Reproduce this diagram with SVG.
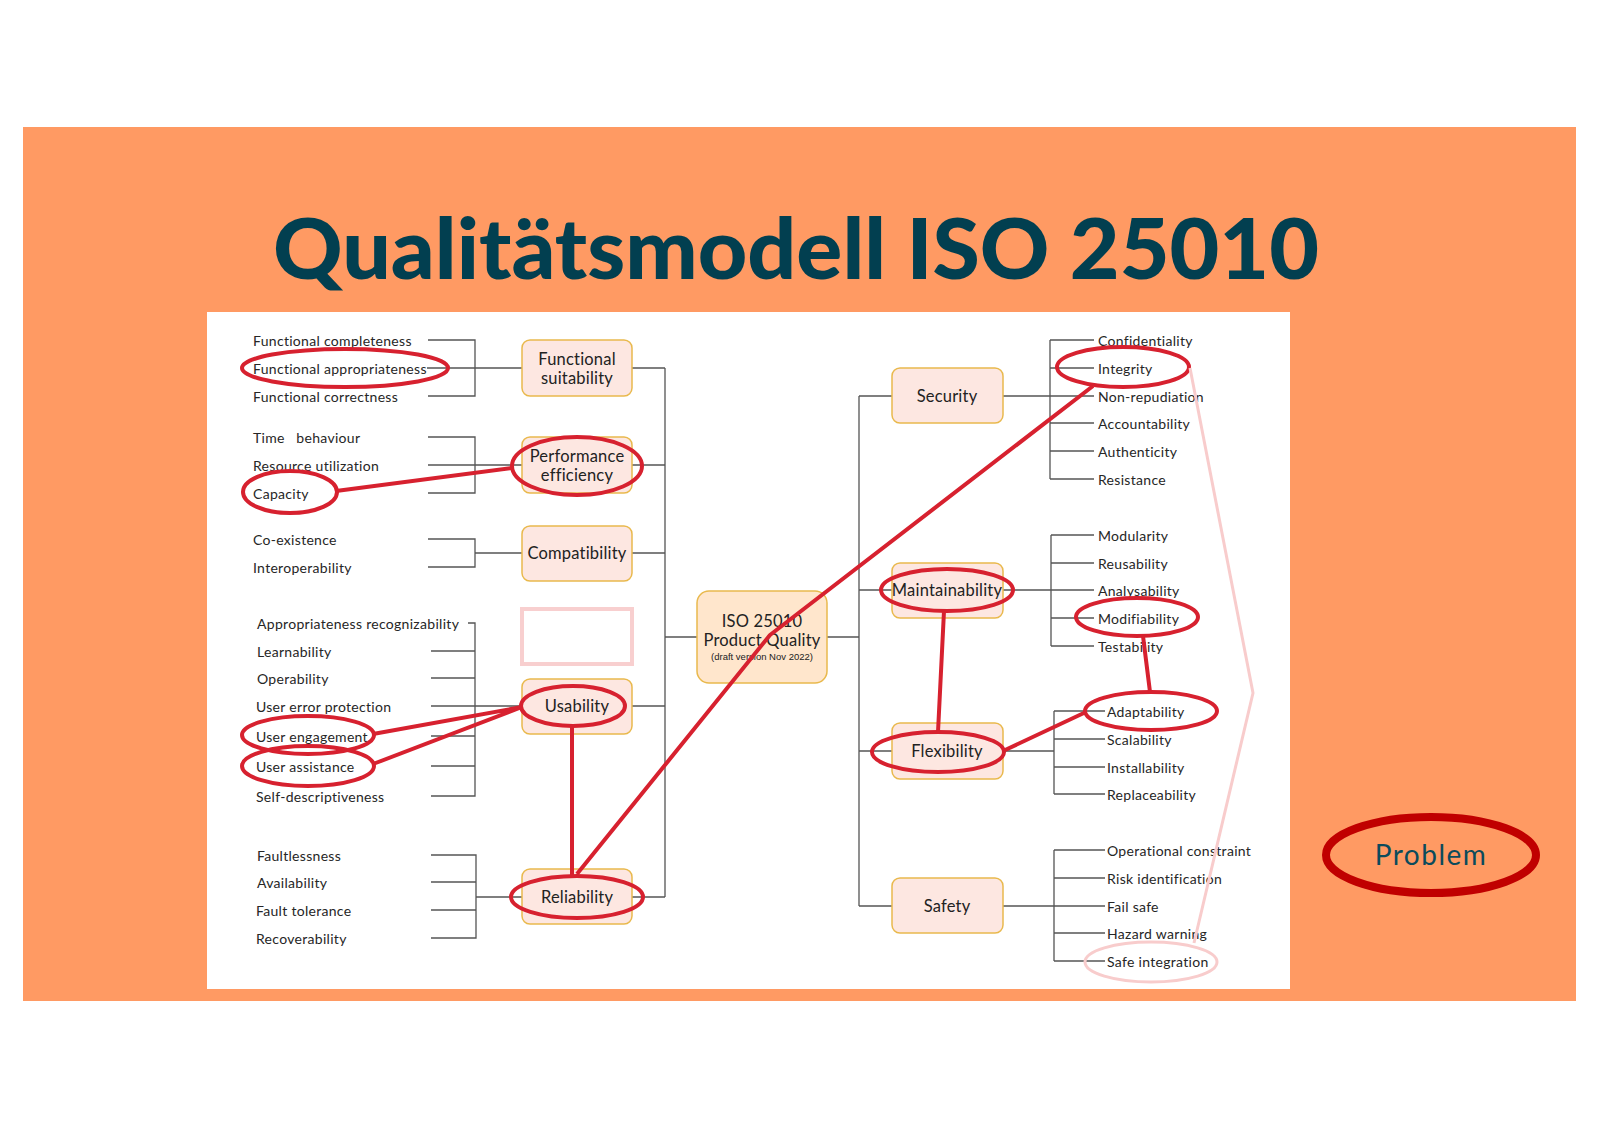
<svg xmlns="http://www.w3.org/2000/svg" width="1600" height="1131" viewBox="0 0 1600 1131">
<style>
.bg{fill:#ff9a63}
.item{font-family:Lato,"Noto Sans","Liberation Sans",sans-serif;font-size:14px;letter-spacing:0.3px;fill:#262626;dominant-baseline:central}
.box{fill:#fde7e1;stroke:#e9b94d;stroke-width:1.5}
.lbl{font-family:Lato,"Noto Sans","Liberation Sans",sans-serif;font-size:16.5px;letter-spacing:0.2px;fill:#222;text-anchor:middle;dominant-baseline:central}
.ln{stroke:#555;stroke-width:1.3;fill:none}
.red{stroke:#d7212f;stroke-width:4;fill:none;stroke-linejoin:round}
.pink{stroke:#f8cccc;stroke-width:3;fill:none}
</style>
<rect x="0" y="0" width="1600" height="1131" fill="#ffffff"/>
<rect class="bg" x="23" y="127" width="1553" height="874"/>
<text x="796" y="279" font-family="Lato,'Noto Sans',sans-serif" font-weight="900" font-size="84" fill="#023f50" text-anchor="middle" textLength="1046" lengthAdjust="spacingAndGlyphs">Qualitätsmodell ISO 25010</text>
<rect x="207" y="312" width="1083" height="677" fill="#ffffff"/>

<g id="connectors">
<path class="ln" d="M428 340H475V396H428M427 368H522M632 368H665"/>
<path class="ln" d="M428 437H475V493H428M428 465H522M632 465H665"/>
<path class="ln" d="M428 539H475V567H428M475 553H522M632 553H665"/>
<path class="ln" d="M468 623H475V796H431M431 651H475M431 678H475M431 706H522M431 736H475M431 766H475M632 706H665"/>
<path class="ln" d="M431 855H476V938H431M431 882H476M431 910H476M476 897H522M632 897H665"/>
<path class="ln" d="M665 368V897M665 637H697M827 637H859M859 396V906M859 396H892M859 590H892M859 751H892M859 906H892"/>
<path class="ln" d="M1003 396H1050M1050 340V479M1050 340H1094M1050 368H1094M1050 396H1094M1050 423H1094M1050 451H1094M1050 479H1094"/>
<path class="ln" d="M1003 590H1051M1051 535V646M1051 535H1094M1051 563H1094M1051 590H1094M1051 618H1094M1051 646H1094"/>
<path class="ln" d="M1003 751H1054M1054 711V794M1054 711H1105M1054 739H1105M1054 767H1105M1054 794H1105"/>
<path class="ln" d="M1003 906H1054M1054 850V961M1054 850H1105M1054 878H1105M1054 906H1105M1054 933H1105M1054 961H1105"/>
</g>

<g id="items-left">
<text class="item" x="253" y="340">Functional completeness</text>
<text class="item" x="253" y="368">Functional appropriateness</text>
<text class="item" x="253" y="396">Functional correctness</text>
<text class="item" x="253" y="437" style="white-space:pre">Time   behaviour</text>
<text class="item" x="253" y="465">Resource utilization</text>
<text class="item" x="253" y="493">Capacity</text>
<text class="item" x="253" y="539">Co-existence</text>
<text class="item" x="253" y="567">Interoperability</text>
<text class="item" x="257" y="623">Appropriateness recognizability</text>
<text class="item" x="257" y="651">Learnability</text>
<text class="item" x="257" y="678">Operability</text>
<text class="item" x="256" y="706">User error protection</text>
<text class="item" x="256" y="736">User engagement</text>
<text class="item" x="256" y="766">User assistance</text>
<text class="item" x="256" y="796">Self-descriptiveness</text>
<text class="item" x="257" y="855">Faultlessness</text>
<text class="item" x="257" y="882">Availability</text>
<text class="item" x="256" y="910">Fault tolerance</text>
<text class="item" x="256" y="938">Recoverability</text>
</g>

<g id="items-right">
<text class="item" x="1098" y="340">Confidentiality</text>
<text class="item" x="1098" y="368">Integrity</text>
<text class="item" x="1098" y="396">Non-repudiation</text>
<text class="item" x="1098" y="423">Accountability</text>
<text class="item" x="1098" y="451">Authenticity</text>
<text class="item" x="1098" y="479">Resistance</text>
<text class="item" x="1098" y="535">Modularity</text>
<text class="item" x="1098" y="563">Reusability</text>
<text class="item" x="1098" y="590">Analysability</text>
<text class="item" x="1098" y="618">Modifiability</text>
<text class="item" x="1098" y="646">Testability</text>
<text class="item" x="1107" y="711">Adaptability</text>
<text class="item" x="1107" y="739">Scalability</text>
<text class="item" x="1107" y="767">Installability</text>
<text class="item" x="1107" y="794">Replaceability</text>
<text class="item" x="1107" y="850">Operational constraint</text>
<text class="item" x="1107" y="878">Risk identification</text>
<text class="item" x="1107" y="906">Fail safe</text>
<text class="item" x="1107" y="933">Hazard warning</text>
<text class="item" x="1107" y="961">Safe integration</text>
</g>

<g id="functional-suitability"><rect class="box" x="522" y="340" width="110" height="56" rx="8"/><text class="lbl" x="577" y="359">Functional</text><text class="lbl" x="577" y="378">suitability</text></g>
<g id="performance-efficiency"><rect class="box" x="522" y="437" width="110" height="56" rx="8"/><text class="lbl" x="577" y="456">Performance</text><text class="lbl" x="577" y="475">efficiency</text></g>
<g id="compatibility"><rect class="box" x="522" y="526" width="110" height="55" rx="8"/><text class="lbl" x="577" y="553">Compatibility</text></g>
<g id="empty-box"><rect x="522" y="609" width="110" height="55" fill="#ffffff" stroke="#f8cfcf" stroke-width="4"/></g>
<g id="usability"><rect class="box" x="522" y="679" width="110" height="55" rx="8"/><text class="lbl" x="577" y="706">Usability</text></g>
<g id="reliability"><rect class="box" x="522" y="869" width="110" height="55" rx="8"/><text class="lbl" x="577" y="897">Reliability</text></g>
<g id="iso-25010"><rect x="697" y="591" width="130" height="92" rx="12" fill="#ffe6cc" stroke="#e9b94d" stroke-width="1.5"/><text class="lbl" x="762" y="621">ISO 25010</text><text class="lbl" x="762" y="640">Product Quality</text><text x="762" y="656" font-family="'Liberation Sans',Arial,sans-serif" font-size="9.5" fill="#222" text-anchor="middle" dominant-baseline="central">(draft version Nov 2022)</text></g>
<g id="security"><rect class="box" x="892" y="368" width="111" height="55" rx="8"/><text class="lbl" x="947" y="396">Security</text></g>
<g id="maintainability"><rect class="box" x="892" y="563" width="111" height="55" rx="8"/><text class="lbl" x="947" y="590">Maintainability</text></g>
<g id="flexibility"><rect class="box" x="892" y="723" width="111" height="56" rx="8"/><text class="lbl" x="947" y="751">Flexibility</text></g>
<g id="safety"><rect class="box" x="892" y="878" width="111" height="55" rx="8"/><text class="lbl" x="947" y="906">Safety</text></g>

<g id="annotations">
<ellipse class="red" cx="345" cy="368" rx="103" ry="19"/>
<ellipse class="red" cx="290" cy="492" rx="47" ry="21"/>
<ellipse class="red" cx="577" cy="466" rx="65" ry="29"/>
<ellipse class="red" cx="308" cy="735" rx="66" ry="19"/>
<ellipse class="red" cx="308" cy="766" rx="66" ry="20"/>
<ellipse class="red" cx="573" cy="706" rx="52" ry="20"/>
<ellipse class="red" cx="577" cy="897" rx="66" ry="21"/>
<ellipse class="red" cx="947" cy="590" rx="66" ry="21"/>
<ellipse class="red" cx="938" cy="752" rx="66" ry="20"/>
<ellipse class="red" cx="1123" cy="367" rx="66" ry="20"/>
<ellipse class="red" cx="1137" cy="617" rx="61" ry="19"/>
<ellipse class="red" cx="1151" cy="711" rx="66" ry="19"/>
<path class="red" d="M336 491L512 468M373 734L522 707M373 764L522 707M572 726V876M944 611L938 732M1143 636L1150 692M1003 751L1086 712"/>
<path class="red" d="M577 874L770 635L1093 386"/>
<ellipse class="pink" cx="1151" cy="962" rx="66" ry="20"/>
<polyline class="pink" points="1190,368 1253,693 1194,943"/>
</g>

<g id="problem">
<ellipse cx="1431" cy="855" rx="105" ry="38" fill="none" stroke="#c00000" stroke-width="8"/>
<text x="1431" y="865" font-family="Lato,'Noto Sans',sans-serif" font-size="28" fill="#0b4b5c" text-anchor="middle" letter-spacing="1.5">Problem</text>
</g>
</svg>
